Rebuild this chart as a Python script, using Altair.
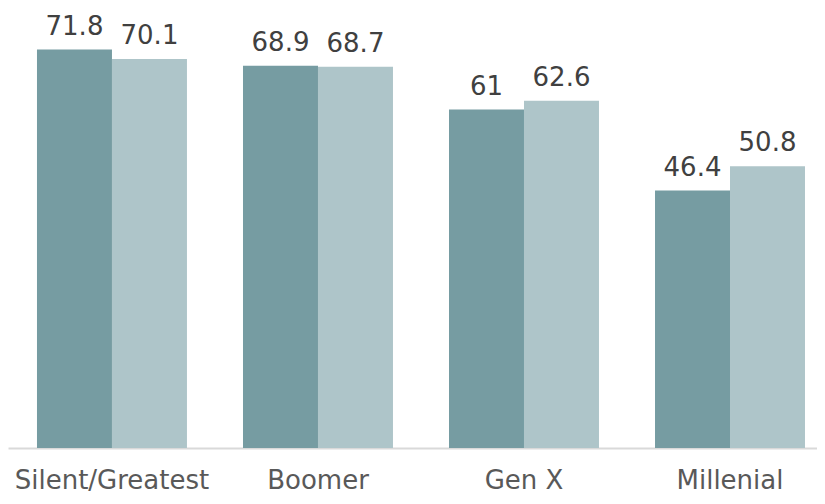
import altair as alt
import pandas as pd

categories = ["Silent/Greatest", "Boomer", "Gen X", "Millenial"]
series = ["A", "B"]
values_a = [71.8, 68.9, 61, 46.4]
values_b = [70.1, 68.7, 62.6, 50.8]
labels_a = ["71.8", "68.9", "61", "46.4"]
labels_b = ["70.1", "68.7", "62.6", "50.8"]
colors = ["#769ca2", "#aec5c9"]

rows = []
for c, va, vb, la, lb in zip(categories, values_a, values_b, labels_a, labels_b):
    rows.append({"cat": c, "series": "A", "value": va, "label": la})
    rows.append({"cat": c, "series": "B", "value": vb, "label": lb})
df = pd.DataFrame(rows)

font = "DejaVu Sans"

x = alt.X("cat:N", sort=categories, title=None,
          scale=alt.Scale(paddingInner=0.272, paddingOuter=0.0995, align=0.707),
          axis=alt.Axis(labelAngle=0, labelFont=font, labelFontSize=26,
                        labelColor="#595959", labelBaseline="alphabetic",
                        labelPadding=40, ticks=False, tickSize=0,
                        domainColor="#d9d9d9", domainWidth=2, grid=False,
                        labelLimit=400))
y = alt.Y("value:Q", scale=alt.Scale(domain=[0, 79.3], nice=False, zero=True), axis=None)
xo = alt.XOffset("series:N", sort=series, scale=alt.Scale(paddingInner=0, paddingOuter=0))

base = alt.Chart(df).encode(x=x, xOffset=xo, y=y)

bars = base.mark_bar().encode(
    color=alt.Color("series:N", scale=alt.Scale(domain=series, range=colors), legend=None)
)
text = base.mark_text(font=font, fontSize=26, color="#404040",
                      baseline="alphabetic", dy=-15).encode(text="label:N")

chart = (bars + text).properties(
    width=809, height=440,
    autosize=alt.AutoSizeParams(type="none"),
    padding={"left": 0, "top": 0, "right": 0, "bottom": 48},
).configure_view(stroke=None)
chart.save("out.html", embed_options={"renderer": "svg", "actions": False})
